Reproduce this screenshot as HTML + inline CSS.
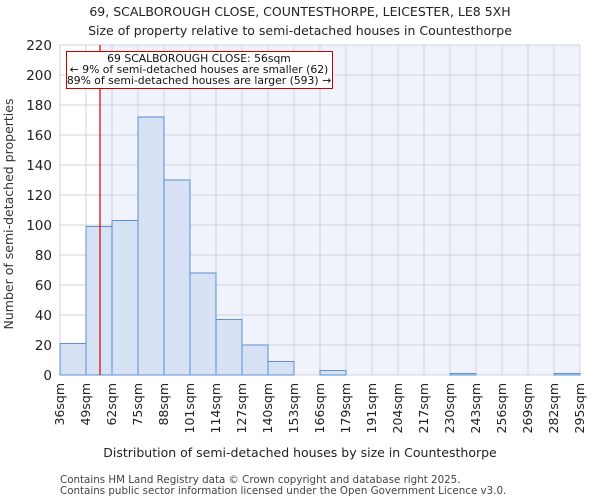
<!DOCTYPE html>
<html><head><meta charset="utf-8"><style>
html,body{margin:0;padding:0;background:#fff;}
svg{display:block;font-family:"DejaVu Sans","Liberation Sans",sans-serif;}
</style></head><body>
<svg id="chart" width="600" height="500" viewBox="0 0 600 500">
<text x="300" y="16" text-anchor="middle" font-size="12.5" fill="#222">69, SCALBOROUGH CLOSE, COUNTESTHORPE, LEICESTER, LE8 5XH</text>
<text x="300" y="35" text-anchor="middle" font-size="12.5" fill="#222">Size of property relative to semi-detached houses in Countesthorpe</text>
<g id="plot"></g>
<text x="300" y="457" text-anchor="middle" font-size="12.5" fill="#222">Distribution of semi-detached houses by size in Countesthorpe</text>
<text transform="translate(13,214) rotate(-90)" text-anchor="middle" font-size="12.5" fill="#333">Number of semi-detached properties</text>
<text x="60" y="483" font-size="10.3" fill="#444">Contains HM Land Registry data © Crown copyright and database right 2025.</text>
<text x="60" y="494" font-size="10.3" fill="#444">Contains public sector information licensed under the Open Government Licence v3.0.</text>
</svg>
<script>
const binEdges = [36,49,62,75,88,101,114,127,140,153,166,179,191,204,217,230,243,256,269,282,295];
const counts = [21,99,103,172,130,68,37,20,9,0,3,0,0,0,0,1,0,0,0,1];
const yTicks = [0,20,40,60,80,100,120,140,160,180,200,220];
const markerValue = 56;
const annotation = ["69 SCALBOROUGH CLOSE: 56sqm","← 9% of semi-detached houses are smaller (62)","89% of semi-detached houses are larger (593) →"];

const NS="http://www.w3.org/2000/svg";
const L=60,R=580,T=45,B=375,yMax=220;
const nb=counts.length;
const bw=(R-L)/nb;
const xIdx=i=>L+i*bw;
const xVal=v=>{for(let i=0;i<nb;i++){if(v<=binEdges[i+1])return xIdx(i)+(v-binEdges[i])/(binEdges[i+1]-binEdges[i])*bw;}return R;};
const y=v=>B-(v/yMax)*(B-T);
const g=document.getElementById('plot');
function mk(t,a){const e=document.createElementNS(NS,t);for(const k in a)e.setAttribute(k,a[k]);g.appendChild(e);return e;}
const mx=xVal(markerValue);
let e=mk('rect',{x:mx,y:T,width:R-mx,height:B-T,fill:'#f0f3fb'});


yTicks.forEach(t=>{
 let l=mk('line',{x1:L,x2:R,y1:y(t),y2:y(t),stroke:'#cdd3dd','stroke-width':1});
 
 
 let tx=mk('text',{x:L-8,y:y(t)+5,'text-anchor':'end','font-size':'13.5',fill:'#222'});
 tx.textContent=t;
 
 
});
binEdges.forEach((b,i)=>{
 let l=mk('line',{x1:xIdx(i),x2:xIdx(i),y1:T,y2:B,stroke:'#cdd3dd','stroke-width':1});
 
 
 const xx=xIdx(i)+4;
 let tx=mk('text',{transform:`translate(${xx},${B+8}) rotate(-90)`,'text-anchor':'end','font-size':'12.5',fill:'#222'});
 tx.textContent=b+'sqm';
 
 
});
counts.forEach((c,i)=>{
 if(c<=0)return;
 let r=mk('rect',{x:xIdx(i),y:y(c),width:bw,height:B-y(c),fill:'#d6e1f3',stroke:'#5b8fd6','stroke-width':1});
 
 
});
e=mk('line',{x1:mx,x2:mx,y1:T,y2:B,stroke:'#d00000','stroke-width':1.2});


e=mk('rect',{x:66.5,y:51.5,width:266,height:37,fill:'#fff',stroke:'#cc0000','stroke-width':1});


annotation.forEach((s,i)=>{
 let tx=mk('text',{x:199,y:62+i*11,'text-anchor':'middle','font-size':'10.8',fill:'#111'});
 tx.textContent=s;
 
 
});
</script>
</body></html>
